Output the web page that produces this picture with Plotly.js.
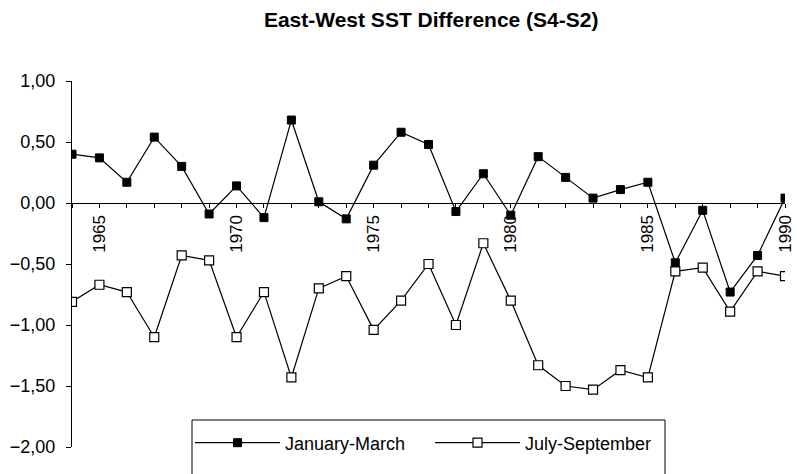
<!DOCTYPE html>
<html>
<head>
<meta charset="utf-8">
<script src="https://cdn.plot.ly/plotly-3.0.1.min.js"></script>
<style>html,body{margin:0;padding:0;background:#fff;}#chart{width:797px;height:474px;}</style>
</head>
<body>
<div id="chart"></div>
<script>
var years = [1964,1965,1966,1967,1968,1969,1970,1971,1972,1973,1974,1975,1976,1977,1978,1979,1980,1981,1982,1983,1984,1985,1986,1987,1988,1989,1990];
var janMar = [0.40,0.37,0.17,0.54,0.30,-0.09,0.14,-0.12,0.68,0.01,-0.13,0.31,0.58,0.48,-0.07,0.24,-0.10,0.38,0.21,0.04,0.11,0.17,-0.49,-0.06,-0.73,-0.43,0.04];
var julSep = [-0.81,-0.67,-0.73,-1.10,-0.43,-0.47,-1.10,-0.73,-1.43,-0.70,-0.60,-1.04,-0.80,-0.50,-1.00,-0.33,-0.80,-1.33,-1.50,-1.53,-1.37,-1.43,-0.56,-0.53,-0.89,-0.56,-0.60];
var seriesNames = ["January-March","July-September"];
var yTicks = [1,0.5,0,-0.5,-1,-1.5,-2];
var xTickText = years.map(function(y){ return (y % 5 === 0) ? String(y) : ""; });

var font = "Liberation Sans, Arial, Helvetica, sans-serif";

var traces = [
  {x: years, y: janMar, name: seriesNames[0], type: "scatter", mode: "lines+markers",
   line: {color: "#000", width: 1.2},
   marker: {symbol: "square", size: 8, color: "#000", line: {color: "#000", width: 1}}},
  {x: years, y: julSep, name: seriesNames[1], type: "scatter", mode: "lines+markers",
   line: {color: "#000", width: 1.2},
   marker: {symbol: "square", size: 9, color: "#fff", line: {color: "#000", width: 1.2}}}
];

var plotL = 72, plotR = 785, plotT = 81, plotB = 447;
var pw = plotR - plotL, ph = plotB - plotT;
function px(x){ return (x - plotL) / pw; }
function py(y){ return (plotB - y) / ph; }

var layout = {
  width: 797, height: 474,
  margin: {l: plotL, r: 797 - plotR, t: plotT, b: 474 - plotB, pad: 0},
  paper_bgcolor: "#fff", plot_bgcolor: "#fff",
  separators: ", ",
  font: {family: font, color: "#000", size: 14},
  title: {text: "<b>East-West SST Difference (S4-S2)</b>", x: 0.541, xanchor: "center", y: 0.958, yanchor: "middle",
          font: {family: font, size: 21, color: "#000"}},
  showlegend: true,
  legend: {orientation: "h", x: px(190), xanchor: "left", y: py(443), yanchor: "middle",
           bgcolor: "rgba(0,0,0,0)", borderwidth: 0, font: {family: font, size: 18, color: "#000"},
           itemwidth: 85, entrywidth: 140, entrywidthmode: "pixels"},
  xaxis: {range: [1964, 1990], anchor: "free", position: 2/3, showgrid: false, zeroline: false,
          showline: true, linecolor: "#000", linewidth: 1.2,
          tickmode: "array", tickvals: years, ticktext: xTickText, tickangle: -90,
          ticks: "outside", ticklen: 4, tickcolor: "#000", tickwidth: 1,
          tickfont: {family: font, size: 17, color: "#000"}},
  xaxis2: {range: [1964, 1990], overlaying: "x", anchor: "free", position: 2/3, showgrid: false, zeroline: false,
           showline: false, tickmode: "array", tickvals: years, ticks: "inside", ticklen: 4,
           tickcolor: "#000", tickwidth: 1, showticklabels: false},
  yaxis: {range: [-2, 1], showgrid: false, zeroline: false, showline: true, linecolor: "#000", linewidth: 1.2,
          tickmode: "array", tickvals: yTicks, tickformat: ".2f",
          ticks: "outside", ticklen: 5, tickcolor: "#000", tickwidth: 1, ticklabelstandoff: 7,
          tickfont: {family: font, size: 18, color: "#000"}},
  yaxis2: {range: [-2, 1], overlaying: "y", anchor: "x", side: "left", showgrid: false, zeroline: false,
           showline: false, tickmode: "array", tickvals: yTicks, ticks: "inside", ticklen: 5,
           tickcolor: "#000", tickwidth: 1, showticklabels: false},
  shapes: [
    {type: "rect", xref: "paper", yref: "paper", x0: px(192), x1: px(665), y0: py(478), y1: py(420),
     line: {color: "#000", width: 1}, fillcolor: "rgba(0,0,0,0)", layer: "above"}
  ]
};

Plotly.newPlot("chart", traces, layout, {displayModeBar: false, staticPlot: true});
</script>
</body>
</html>
